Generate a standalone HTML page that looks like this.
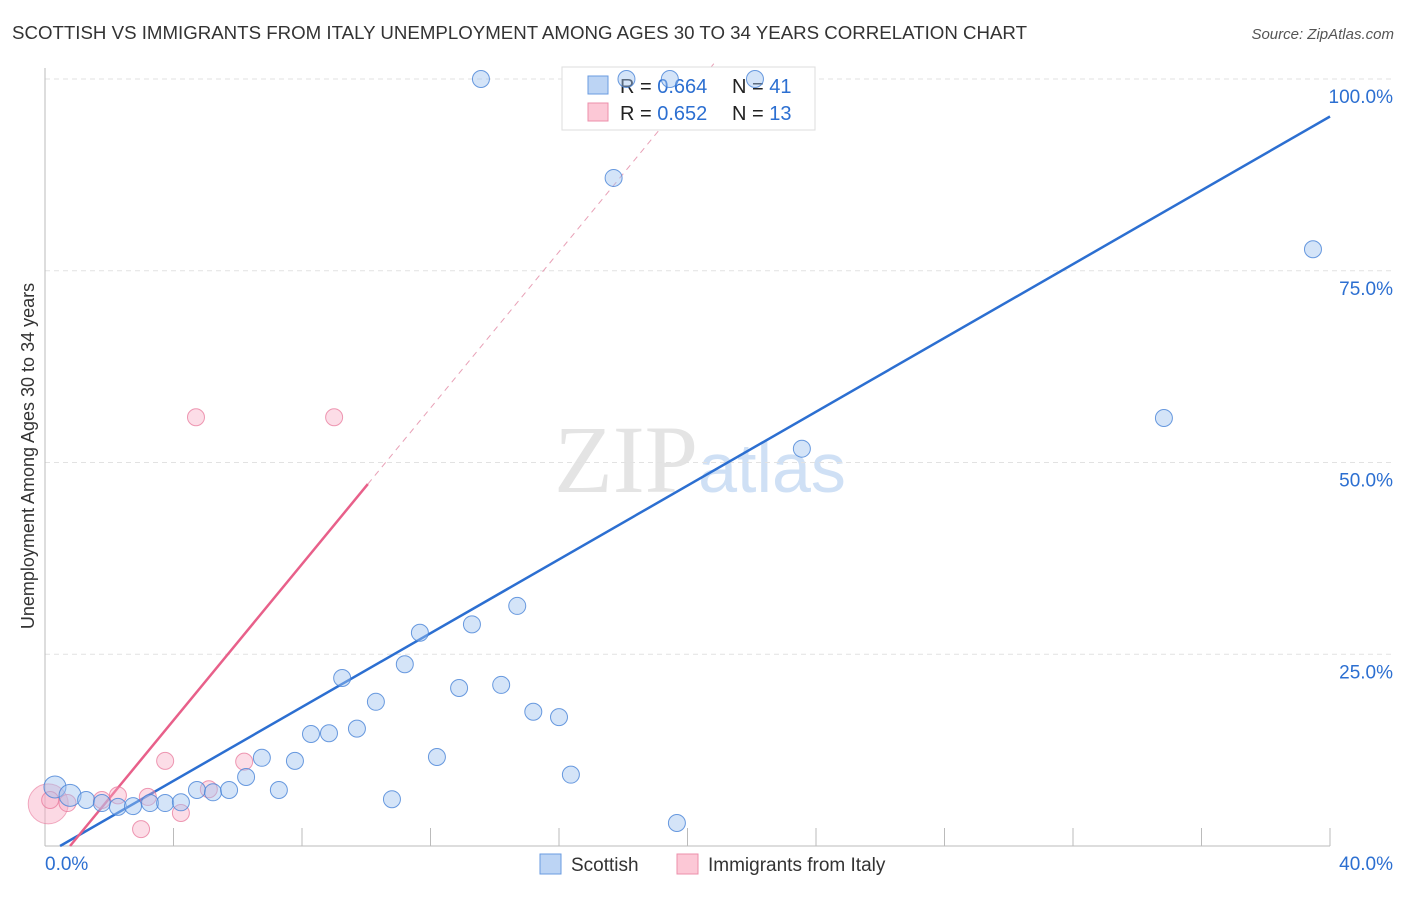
<!DOCTYPE html>
<html><head><meta charset="utf-8"><style>
body{margin:0;background:#fff;font-family:"Liberation Sans",sans-serif}
</style></head><body>
<svg width="1406" height="892" xmlns="http://www.w3.org/2000/svg" font-family="Liberation Sans, sans-serif">
<text x="12" y="39" font-size="18" fill="#333" textLength="1015" lengthAdjust="spacingAndGlyphs">SCOTTISH VS IMMIGRANTS FROM ITALY UNEMPLOYMENT AMONG AGES 30 TO 34 YEARS CORRELATION CHART</text>
<text x="1394" y="39" font-size="15" fill="#555" text-anchor="end" font-style="italic">Source: ZipAtlas.com</text>
<text x="700" y="492" font-size="96" fill="#e4e4e4" text-anchor="middle" font-family="Liberation Serif, serif">ZIP<tspan fill="#cfe0f5" font-family="Liberation Sans, sans-serif" font-size="70">atlas</tspan></text>
<g id="grid"></g>
<g id="axes"></g>
<g id="lines"></g>
<g>
<rect x="562" y="67" width="253" height="63" fill="#fff" stroke="#ddd"/>
<rect x="588" y="76" width="20" height="18" fill="#bcd4f4" stroke="#6a9be0"/>
<text x="620" y="93" font-size="20" fill="#222">R = <tspan fill="#2c6fd1">0.664</tspan></text>
<text x="732" y="93" font-size="20" fill="#222">N = <tspan fill="#2c6fd1">41</tspan></text>
<rect x="588" y="103" width="20" height="18" fill="#fcc8d6" stroke="#ec8fab"/>
<text x="620" y="120" font-size="20" fill="#222">R = <tspan fill="#2c6fd1">0.652</tspan></text>
<text x="732" y="120" font-size="20" fill="#222">N = <tspan fill="#2c6fd1">13</tspan></text>
</g>
<g id="pts"></g>
<text transform="translate(34,456) rotate(-90)" font-size="18" fill="#333" text-anchor="middle">Unemployment Among Ages 30 to 34 years</text>
<g>
<rect x="540" y="854" width="21" height="20" fill="#bcd4f4" stroke="#6a9be0"/>
<text x="571" y="871" font-size="19" fill="#333">Scottish</text>
<rect x="677" y="854" width="21" height="20" fill="#fcc8d6" stroke="#ec8fab"/>
<text x="708" y="871" font-size="19" fill="#333">Immigrants from Italy</text>
</g>
</svg>
<script>
const blueX=[0.31,0.78,1.28,1.77,2.27,2.74,3.27,3.74,4.23,4.73,5.23,5.73,6.26,6.75,7.28,7.78,8.28,8.84,9.25,9.71,10.3,10.8,11.2,11.67,12.2,12.89,13.29,14.2,14.7,15.2,16.0,16.37,17.7,19.67,23.56,34.83,39.47,13.57,18.1,19.45,22.1];
const blueY=[7.7,6.6,6.0,5.6,5.1,5.2,5.6,5.6,5.7,7.3,7.0,7.3,9.0,11.5,7.3,11.1,14.6,14.7,21.9,15.3,18.8,6.1,23.7,27.8,11.6,20.6,28.9,21.0,31.3,17.5,16.8,9.3,87.1,3.0,51.8,55.8,77.8,100,100,100,100];
const pinkX=[0.16,0.7,1.77,2.27,2.99,3.2,3.74,4.23,4.7,5.1,6.2,9.0];
const pinkY=[6.0,5.6,6.0,6.6,2.2,6.4,11.1,4.3,55.9,7.4,11.0,55.9];
const yTicks=[25,50,75,100];
const yTickLabels=["25.0%","50.0%","75.0%","100.0%"];
const blueFit=[-1.13,2.406];
const pinkFit=[-3.97,5.09];
const NS="http://www.w3.org/2000/svg";
const sx=v=>45+v*32.125, sy=v=>846-v*7.67;
function mk(tag,attrs,parent){const e=document.createElementNS(NS,tag);for(const k in attrs)e.setAttribute(k,attrs[k]);document.getElementById(parent).appendChild(e);return e;}
yTicks.forEach((t,i)=>{
 const g=mk('line',{x1:45,x2:1395,y1:sy(t),y2:sy(t),stroke:'#e2e2e2','stroke-dasharray':'5,4'},'grid');
 
 
 const l=mk('text',{x:1393,y:sy(t)+24,'font-size':19,fill:'#2c6fd1','text-anchor':'end'},'grid');
 l.textContent=yTickLabels[i];
 
 
});
const ax=mk('line',{x1:45,x2:1330,y1:846,y2:846,stroke:'#bbb'},'axes');


const ay=mk('line',{x1:45,x2:45,y1:68,y2:846,stroke:'#bbb'},'axes');


for(let i=1;i<=10;i++){const t=mk('line',{x1:sx(i*4),x2:sx(i*4),y1:828,y2:846,stroke:'#bbb'},'axes');
 
 }
const xl0=mk('text',{x:45,y:870,'font-size':19,fill:'#2c6fd1'},'axes');xl0.textContent='0.0%';


const xl1=mk('text',{x:1393,y:870,'font-size':19,fill:'#2c6fd1','text-anchor':'end'},'axes');xl1.textContent='40.0%';


const bx0=-blueFit[0]/blueFit[1];
const bl=mk('line',{x1:sx(bx0),y1:sy(0),x2:sx(40),y2:sy(blueFit[0]+blueFit[1]*40),stroke:'#2c6fd1','stroke-width':2.5},'lines');


const px0=-pinkFit[0]/pinkFit[1], px1=10.05, px2=(102-pinkFit[0])/pinkFit[1];
const pl=mk('line',{x1:sx(px0),y1:sy(0),x2:sx(px1),y2:sy(pinkFit[0]+pinkFit[1]*px1),stroke:'#e8608a','stroke-width':2.5},'lines');


const pd=mk('line',{x1:sx(px1),y1:sy(pinkFit[0]+pinkFit[1]*px1),x2:sx(px2),y2:sy(102),stroke:'#e8a0b6','stroke-width':1,'stroke-dasharray':'6,5'},'lines');


const big=mk('circle',{cx:sx(0.1),cy:sy(5.5),r:20,fill:'rgba(248,170,195,0.45)',stroke:'rgba(232,120,155,0.6)'},'pts');


pinkX.forEach((x,i)=>{const c=mk('circle',{cx:sx(x),cy:sy(pinkY[i]),r:8.5,fill:'rgba(248,170,195,0.4)',stroke:'rgba(232,120,155,0.75)'},'pts');
 
 });
blueX.forEach((x,i)=>{const c=mk('circle',{cx:sx(x),cy:sy(blueY[i]),r:i<2?11:8.5,fill:'rgba(160,196,240,0.45)',stroke:'rgba(70,130,215,0.8)'},'pts');
 
 });
</script>
</body></html>
